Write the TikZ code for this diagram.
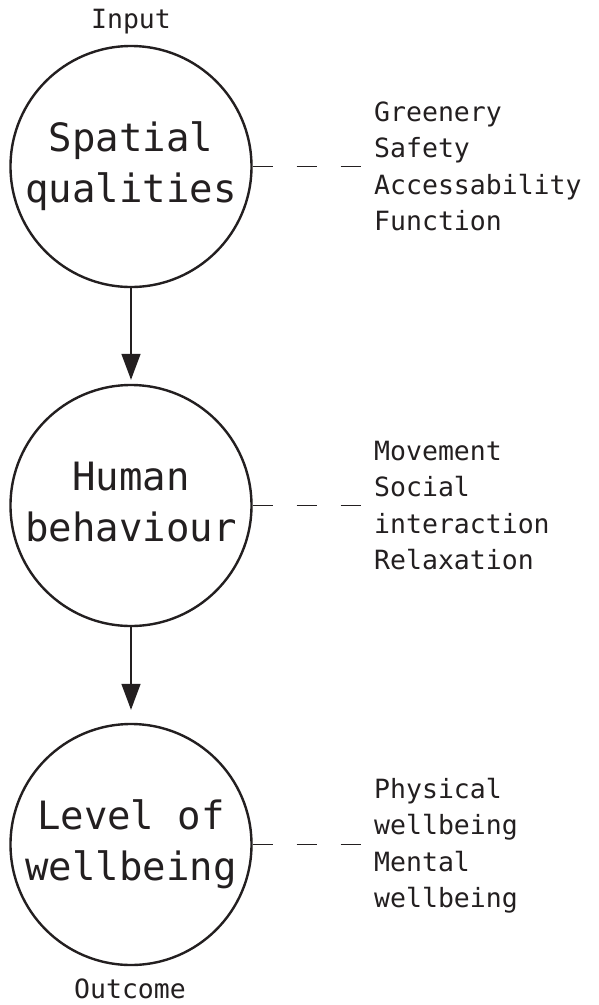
\documentclass[tikz,border=0pt]{standalone}
\usepackage{fontspec}
\newfontfamily\dmono{DejaVu Sans Mono}
\usetikzlibrary{arrows.meta}
\definecolor{ink}{HTML}{231F20}
\begin{document}
\begin{tikzpicture}[x=1pt,y=1pt,
  stage/.style={circle, draw=ink, line width=2.4pt, minimum size=241pt, inner sep=0pt, align=center, text=ink, font=\dmono\fontsize{39}{51}\selectfont},
  items/.style={anchor=base west, align=left, inner sep=0pt, text=ink, font=\dmono\fontsize{26.5}{36.6}\selectfont},
  tag/.style={anchor=base, inner sep=0pt, text=ink, font=\dmono\fontsize{26.5}{36.6}\selectfont},
  flow/.style={draw=ink, line width=1.5pt, -{Triangle[width=19pt,length=26pt]}},
  link/.style={draw=ink, line width=1.6pt, dash pattern=on 20pt off 24pt}]
\useasboundingbox (0,0) rectangle (598,-1005);
\fill[white] (0,0) rectangle (598,-1005);
\node[stage] (s1) at (131,-166.5) {Spatial\strut\\qualities\strut};
\node[stage] (s2) at (131,-505.5) {Human\strut\\behaviour\strut};
\node[stage] (s3) at (131,-844.5) {Level of\strut\\wellbeing\strut};
\draw[flow, shorten >=4pt] (s1) -- (s2);
\draw[flow, shorten >=13pt] (s2) -- (s3);
\coordinate (e) at (363,0);
\draw[link] (s1.east) -- (s1.east -| e);
\draw[link] (s2.east) -- (s2.east -| e);
\draw[link] (s3.east) -- (s3.east -| e);
\node[items] (t1) at (374,-230.8) {Greenery\\Safety\\Accessability\\Function};
\node[items] (t2) at (374,-569.8) {Movement\\Social\\interaction\\Relaxation};
\node[items] (t3) at (374,-907.8) {Physical\\wellbeing\\Mental\\wellbeing};
\node[tag] (in) at (131,-28) {Input};
\node[tag] (out) at (130,-998) {Outcome};
\end{tikzpicture}
\end{document}
